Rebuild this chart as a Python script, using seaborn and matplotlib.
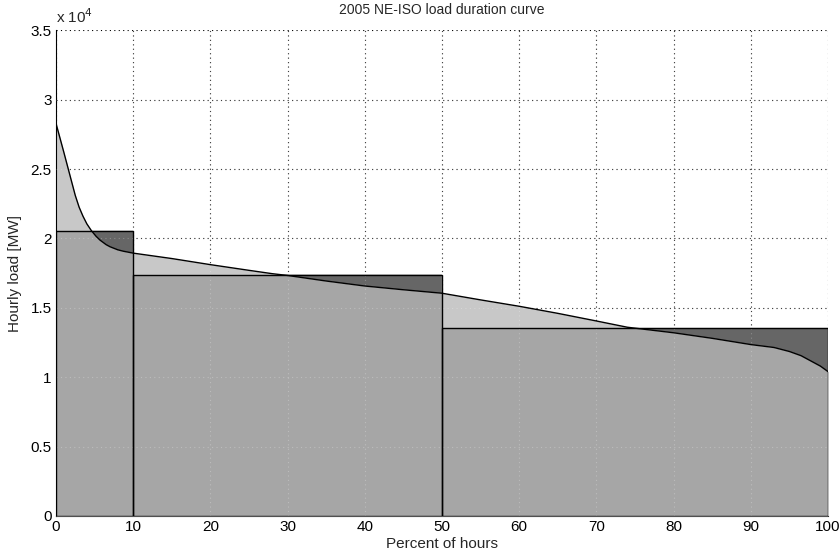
import matplotlib
matplotlib.use("Agg")
import matplotlib.pyplot as plt
import numpy as np
import pandas as pd
import seaborn as sns
from matplotlib.ticker import FuncFormatter

# -------------------------------------------------------------------
# Data
# -------------------------------------------------------------------

# load duration curve: percent of hours vs hourly load [MW]
pct_hours = [0, 1, 2, 2.5, 3, 3.5, 4, 4.6, 5.2, 5.7, 6.5, 7, 8, 8.7, 10,
             15, 20, 25, 28, 30, 35, 40, 45, 50, 55, 60, 65, 70, 74, 80,
             85, 90, 93, 95, 96.5, 98, 99, 100]
load_mw = [28300, 26250, 24150, 23100, 22250, 21600, 21050, 20550, 20150,
           19880, 19550, 19400, 19180, 19080, 18940, 18550, 18110, 17700,
           17460, 17330, 16930, 16570, 16300, 16050, 15570, 15110, 14600,
           14050, 13600, 13200, 12800, 12350, 12140, 11850, 11550, 11100,
           10800, 10400]

# three-block approximation
block_edges = [0, 10, 50, 100]
block_load = [20550, 17390, 13550]

y_ticks = [0, 5000, 10000, 15000, 20000, 25000, 30000, 35000]
x_ticks = [0, 10, 20, 30, 40, 50, 60, 70, 80, 90, 100]

LIGHT = "#c8c8c8"
MID = "#a6a6a6"
DARK = "#666666"

# -------------------------------------------------------------------
# Plot
# -------------------------------------------------------------------

sns.set_theme(style="white")
plt.rcParams["font.family"] = ["Liberation Sans", "DejaVu Sans"]

fig = plt.figure(figsize=(8.39, 5.6), dpi=100)
ax = fig.add_axes([0.0667, 0.0786, 0.9203, 0.8674])

curve = pd.DataFrame({"pct": pct_hours, "load": load_mw})

xs = np.linspace(0, 100, 4001)
curve_y = np.interp(xs, curve["pct"], curve["load"])
idx = np.clip(np.searchsorted(block_edges, xs, side="right") - 1, 0, len(block_load) - 1)
step_y = np.asarray(block_load)[idx]

ax.fill_between(xs, 0, curve_y, color=LIGHT, lw=0, zorder=2)
ax.fill_between(xs, curve_y, step_y, where=step_y > curve_y, color=DARK,
                lw=0, zorder=2)
ax.fill_between(xs, 0, np.minimum(curve_y, step_y), color=MID, lw=0, zorder=3)

# faint grid showing through the shaded areas
for xt in x_ticks[1:-1]:
    ax.axvline(xt, color="white", alpha=0.25, lw=0.8,
               linestyle=(0, (1, 3)), zorder=3.5)
for yt in y_ticks[1:-1]:
    ax.axhline(yt, color="white", alpha=0.25, lw=0.8,
               linestyle=(0, (1, 3)), zorder=3.5)

lefts = block_edges[:-1]
widths = np.diff(block_edges)
ax.bar(lefts, block_load, width=widths, align="edge", fill=False,
       edgecolor="black", linewidth=1, zorder=4)

sns.lineplot(data=curve, x="pct", y="load", color="black", lw=1, ax=ax,
             zorder=5)

ax.set_xlim(0, 100)
ax.set_ylim(0, 35000)
ax.set_xticks(x_ticks)
ax.set_yticks(y_ticks)
ax.yaxis.set_major_formatter(FuncFormatter(lambda v, p: f"{v / 1e4:g}"))
ax.tick_params(direction="in", length=5, labelsize=11, width=0.8,
               colors="black", pad=3)

ax.grid(True, linestyle=(0, (1, 3)), color="black", linewidth=0.8)
ax.set_axisbelow(True)
for side in ["top", "right"]:
    ax.spines[side].set_visible(False)
for side in ["left", "bottom"]:
    ax.spines[side].set_color("black")
    ax.spines[side].set_linewidth(0.8)

ax.set_xlabel("Percent of hours", fontsize=11, labelpad=2)
ax.set_ylabel("Hourly load [MW]", fontsize=11, labelpad=6)
ax.set_title("2005 NE-ISO load duration curve", fontsize=10, pad=12)
ax.text(0.0, 1.008, r"x 10$^4$", transform=ax.transAxes, fontsize=11,
        ha="left", va="bottom")

fig.savefig("out.png", dpi=100)
